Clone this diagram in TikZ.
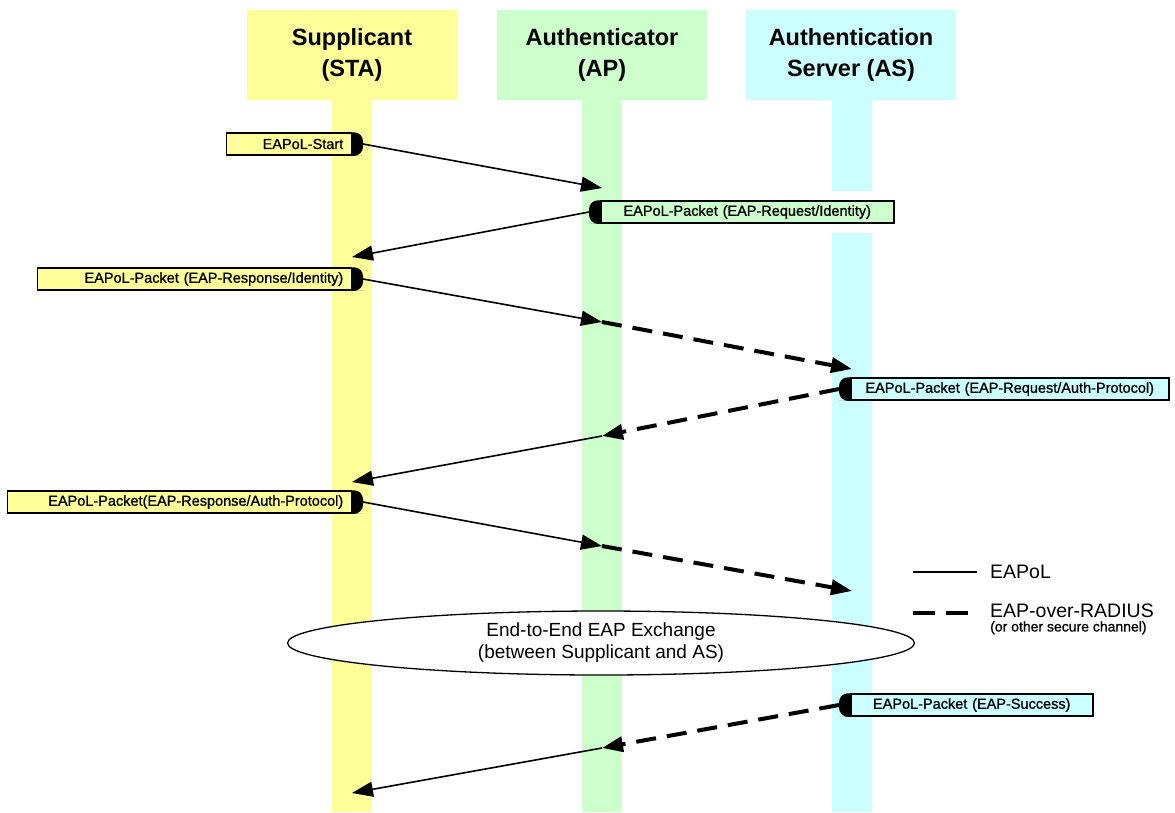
\documentclass[tikz,border=0pt]{standalone}
\usepackage{fontspec}
\setmainfont{Liberation Sans}
\newfontfamily\msgfont[FakeBold=1]{Liberation Sans}
\usepackage{xcolor}
\usepackage{tikz}
\usetikzlibrary{arrows.meta,positioning,calc,shapes.geometric}
\definecolor{staYellow}{RGB}{255,255,153}
\definecolor{apGreen}{RGB}{204,255,204}
\definecolor{asCyan}{RGB}{204,255,255}
% black rounded tab on one side of a message box
\newcommand{\tabEast}[1]{\fill (#1.north east) -- ([xshift=2pt]#1.north east)
  [rounded corners=9pt] -- ([xshift=11pt]#1.north east)
  -- ([xshift=11pt]#1.south east) -- ([xshift=2pt]#1.south east)
  [sharp corners] -- (#1.south east) -- cycle;}
\newcommand{\tabWest}[1]{\fill (#1.north west) -- ([xshift=-2pt]#1.north west)
  [rounded corners=9pt] -- ([xshift=-11pt]#1.north west)
  -- ([xshift=-11pt]#1.south west) -- ([xshift=-2pt]#1.south west)
  [sharp corners] -- (#1.south west) -- cycle;}

\begin{document}
\begin{tikzpicture}[
  x=1pt, y=-1pt,
  header/.style={rectangle, minimum width=210pt, minimum height=90pt,
    inner sep=0pt, align=center, font=\fontsize{23.5}{31}\selectfont\bfseries},
  msgbox/.style={rectangle, draw, line width=1.5pt, minimum height=22pt,
    inner xsep=8pt, inner ysep=0pt, font=\msgfont\fontsize{14.5}{16}\selectfont},
  msgL/.style={msgbox, anchor=east, text width=#1, align=right},
  msgR/.style={msgbox, anchor=west, text width=#1, align=center},
  eapol/.style={-{Triangle[length=21pt,width=15pt]}, line width=1.6pt},
  radius/.style={-{Triangle[length=21pt,width=15pt]}, line width=4pt,
    dash pattern=on 20pt off 11pt},
  legend/.style={anchor=west, inner sep=0pt, font=\fontsize{19.5}{22}\selectfont}
]
  \useasboundingbox (0,0) rectangle (1175,812);

  % lanes
  \fill[staYellow] (332,100) rectangle (372,812);
  \fill[apGreen] (582,100) rectangle (622,812);
  \fill[asCyan] (832,100) rectangle (872,191);
  \fill[asCyan] (832,233) rectangle (872,812);

  % headers
  \node[header, fill=staYellow] (sta) at (352,55) {Supplicant\\(STA)};
  \node[header, fill=apGreen] (ap) at (602,55) {Authenticator\\(AP)};
  \node[header, fill=asCyan] (as) at (851,55) {Authentication\\Server (AS)};

  % points on the lanes
  \coordinate (ap1) at (602,188);
  \coordinate (sta1) at (352,257);
  \coordinate (ap2) at (602,322);
  \coordinate (as2) at (852,369);
  \coordinate (ap3) at (602,436);
  \coordinate (sta3) at (352,482);
  \coordinate (ap4) at (602,546);
  \coordinate (as4) at (852,591);
  \coordinate (ap5) at (602,748);
  \coordinate (sta5) at (352,793);

  % messages
  \node[msgL=109pt, fill=staYellow] (start) at (352,144) {EAPoL-Start};
  \tabEast{start}
  \coordinate (startTip) at ([xshift=11pt]start.east);
  \draw[eapol] (startTip) -- (ap1);

  \node[msgR=277pt, fill=apGreen] (reqId) at (600,212)
    {EAPoL-Packet (EAP-Request/Identity)};
  \tabWest{reqId}
  \coordinate (reqIdTip) at ([xshift=-11pt]reqId.west);
  \draw[eapol] (reqIdTip) -- (sta1);

  \node[msgL=298pt, fill=staYellow] (respId) at (352,279)
    {EAPoL-Packet (EAP-Response/Identity)};
  \tabEast{respId}
  \coordinate (respIdTip) at ([xshift=11pt]respId.east);
  \draw[eapol] (respIdTip) -- (ap2);
  \draw[radius] (ap2) -- (as2);

  \node[msgR=302pt, fill=asCyan] (reqAuth) at (850,389)
    {EAPoL-Packet (EAP-Request/Auth-Protocol)};
  \tabWest{reqAuth}
  \coordinate (reqAuthTip) at ([xshift=-11pt]reqAuth.west);
  \draw[radius] (reqAuthTip) -- (ap3);
  \draw[eapol] (ap3) -- (sta3);

  \node[msgL=328pt, fill=staYellow] (respAuth) at (352,502)
    {EAPoL-Packet(EAP-Response/Auth-Protocol)};
  \tabEast{respAuth}
  \coordinate (respAuthTip) at ([xshift=11pt]respAuth.east);
  \draw[eapol] (respAuthTip) -- (ap4);
  \draw[radius] (ap4) -- (as4);

  % end-to-end exchange
  \node[ellipse, draw, line width=1.3pt, fill=white, minimum width=627pt,
    minimum height=64pt, inner sep=0pt, align=center,
    font=\fontsize{19}{22}\selectfont] (e2e) at (601,643)
    {End-to-End EAP Exchange\\(between Supplicant and AS)};

  \node[msgR=226pt, fill=asCyan] (success) at (850,705)
    {EAPoL-Packet (EAP-Success)};
  \tabWest{success}
  \coordinate (successTip) at ([xshift=-11pt]success.west);
  \draw[radius] (successTip) -- (ap5);
  \draw[eapol] (ap5) -- (sta5);

  % legend
  \coordinate (lgA1) at (913,572);
  \coordinate (lgA2) at (977,572);
  \draw[line width=1.6pt] (lgA1) -- (lgA2);
  \node[legend] (lgEapol) at (990,572) {EAPoL};
  \coordinate (lgB1) at (913,613);
  \coordinate (lgB2) at (968,613);
  \draw[line width=4.5pt, dash pattern=on 22pt off 11pt] (lgB1) -- (lgB2);
  \node[legend] (lgRadius) at (990,611) {EAP-over-RADIUS};
  \node[anchor=north west, inner sep=0pt, font=\msgfont\fontsize{14}{15}\selectfont]
    (lgNote) at ([yshift=-3pt]lgRadius.south west) {(or other secure channel)};
\end{tikzpicture}
\end{document}
